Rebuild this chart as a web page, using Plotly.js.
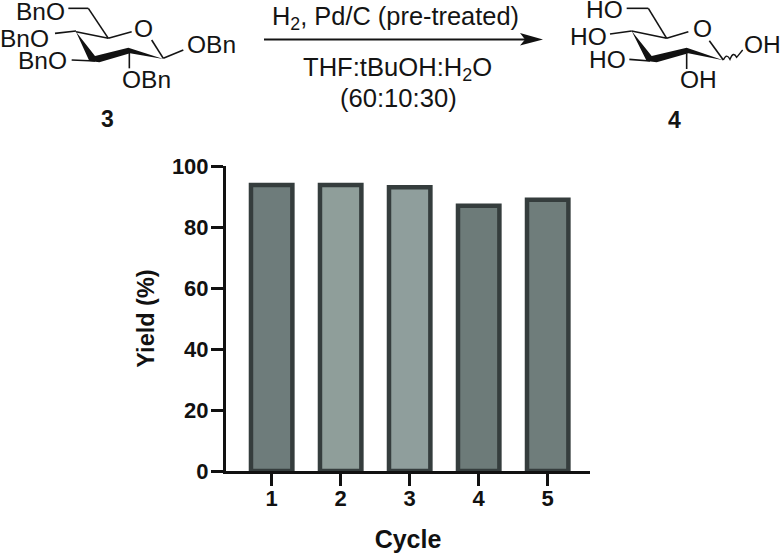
<!DOCTYPE html>
<html><head><meta charset="utf-8">
<script src="https://cdn.plot.ly/plotly-3.0.1.min.js"></script>
<style>html,body{margin:0;padding:0;background:#fff}#c{width:780px;height:553px}</style>
</head><body><div id="c"></div>
<script>
const categories = [1, 2, 3, 4, 5];
const yieldValues = [93.8, 93.8, 93, 87, 88.9];
const barColors = ['#6e7c7b', '#8f9e9a', '#8f9e9c', '#6d7b79', '#6f7d7b'];
const yTicks = [0, 20, 40, 60, 80, 100];

const W = 780, H = 553, INK = '#141414', SANS = '"Liberation Sans", Arial, sans-serif';
const px = x => x / W, py = y => 1 - y / H;

// Scheme drawing (px, y down), given as zoomed-crop units divided by 3 plus an origin
const bonds3 = [[205,25,265,25],[265,25,325,115],[325,115,395,95],[455,120,490,175],[490,175,550,150],
  [228,95,325,115],[165,100,228,93],[215,180,285,183],[388,150,388,205]];
const wedge3 = [[228,95],[268,183],[298,187],[390,160],[490,177],[385,143],[285,168]];
const bonds4 = [[230,25,295,25],[295,25,350,115],[350,115,415,95],[478,122,520,180],
  [245,93,350,115],[180,102,245,93],[238,178,300,183],[410,160,410,207]];
const wedge4 = [[245,93],[290,183],[320,187],[415,160],[520,181],[410,143],[305,168]];
const wavy4 = [[520,180],[530,158],[540,178],[550,152],[560,172],[578,150]];
const arrowLine = [264, 39.5, 525, 39.5];
const arrowHead = [[520,33],[543,39.5],[520,45.5],[525,39.5]];

const shapes = [];
const seg = (b, ox) => shapes.push({type:'line', xref:'paper', yref:'paper',
  x0:px(ox+b[0]/3), y0:py(b[1]/3), x1:px(ox+b[2]/3), y1:py(b[3]/3), line:{color:INK,width:1.6}});
const poly = (p, ox, div) => shapes.push({type:'path', xref:'paper', yref:'paper', line:{width:0}, fillcolor:'#111',
  path:'M'+p.map(q => px(ox+q[0]/div)+','+py(q[1]/div)).join('L')+'Z'});
bonds3.forEach(b => seg(b, 0));
bonds4.forEach(b => seg(b, 550));
poly(wedge3, 0, 3);
poly(wedge4, 550, 3);
poly(arrowHead, 0, 1);
shapes.push({type:'line', xref:'paper', yref:'paper', x0:px(arrowLine[0]), y0:py(arrowLine[1]),
  x1:px(arrowLine[2]), y1:py(arrowLine[3]), line:{color:INK,width:1.8}});
{
  const q = wavy4.map(p => [px(550+p[0]/3), py(p[1]/3)]);
  let d = 'M'+q[0][0]+','+q[0][1];
  for (let i = 1; i + 1 < q.length; i += 2) d += 'Q'+q[i][0]+','+q[i][1]+' '+q[i+1][0]+','+q[i+1][1];
  d += 'L'+q[q.length-1][0]+','+q[q.length-1][1];
  shapes.push({type:'path', xref:'paper', yref:'paper', path:d, line:{color:INK,width:1.4}});
}

const schemeLabels = [
  ['BnO', 40, 11, 24.5], ['BnO', 24, 38, 24.5], ['BnO', 42, 60, 24.5], ['OBn', 211, 45, 24.5], ['OBn', 146, 80, 24.5],
  ['O', 143, 29, 24.5],
  ['HO', 604.5, 10, 24.5], ['HO', 588, 37, 24.5], ['HO', 607, 59, 24.5], ['OH', 762, 45, 24.5], ['OH', 698, 80, 24.5],
  ['O', 702, 29, 24.5],
  ['H<sub>2</sub>, Pd/C (pre-treated)', 395, 18, 25.4],
  ['THF:tBuOH:H<sub>2</sub>O', 397.5, 69, 25.6],
  ['(60:10:30)', 398, 98, 25.6]
];
const annotations = schemeLabels.map(a => ({text:a[0], x:px(a[1]), y:py(a[2]), xref:'paper', yref:'paper',
  xanchor:'center', yanchor:'middle', showarrow:false, font:{family:SANS,size:a[3],color:INK}}));
[['3',107,119],['4',674,120]].forEach(a => annotations.push({text:'<b>'+a[0]+'</b>', x:px(a[1]), y:py(a[2]),
  xref:'paper', yref:'paper', xanchor:'center', yanchor:'middle', showarrow:false, font:{family:SANS,size:23,color:INK}}));

const trace = {type:'bar', x:categories, y:yieldValues, width:0.6, cliponaxis:false,
  marker:{color:barColors, line:{color:'#353d3d', width:4.5}}, hoverinfo:'x+y'};

const layout = {
  width:W, height:H, margin:{l:0,r:0,t:0,b:0,pad:0}, paper_bgcolor:'#fff', plot_bgcolor:'#fff', showlegend:false,
  font:{family:SANS,color:'#111'},
  shapes, annotations,
  xaxis:{domain:[px(226),px(590)], range:[0.338,5.613], tickmode:'array', tickvals:categories, ticktext:categories.map(String),
    showgrid:false, zeroline:false, showline:true, linecolor:'#111', linewidth:3, ticks:'outside', ticklen:12, tickwidth:3, tickcolor:'#111',
    tickfont:{family:SANS,size:22,color:'#111',weight:700}, ticklabelstandoff:-6,
    title:{text:'<b>Cycle</b>', font:{family:SANS,size:25,color:'#111'}, standoff:25}},
  yaxis:{domain:[py(471),py(166)], range:[0,100], tickmode:'array', tickvals:yTicks,
    showgrid:false, zeroline:false, showline:true, linecolor:'#111', linewidth:3, ticks:'outside', ticklen:12, tickwidth:3, tickcolor:'#111',
    tickfont:{family:SANS,size:22,color:'#111',weight:700}, ticklabelstandoff:-2,
    title:{text:'<b>Yield (%)</b>', font:{family:SANS,size:23.5,color:'#111'}, standoff:11}}
};
Plotly.newPlot('c', [trace], layout, {displayModeBar:false, responsive:false});
</script></body></html>
